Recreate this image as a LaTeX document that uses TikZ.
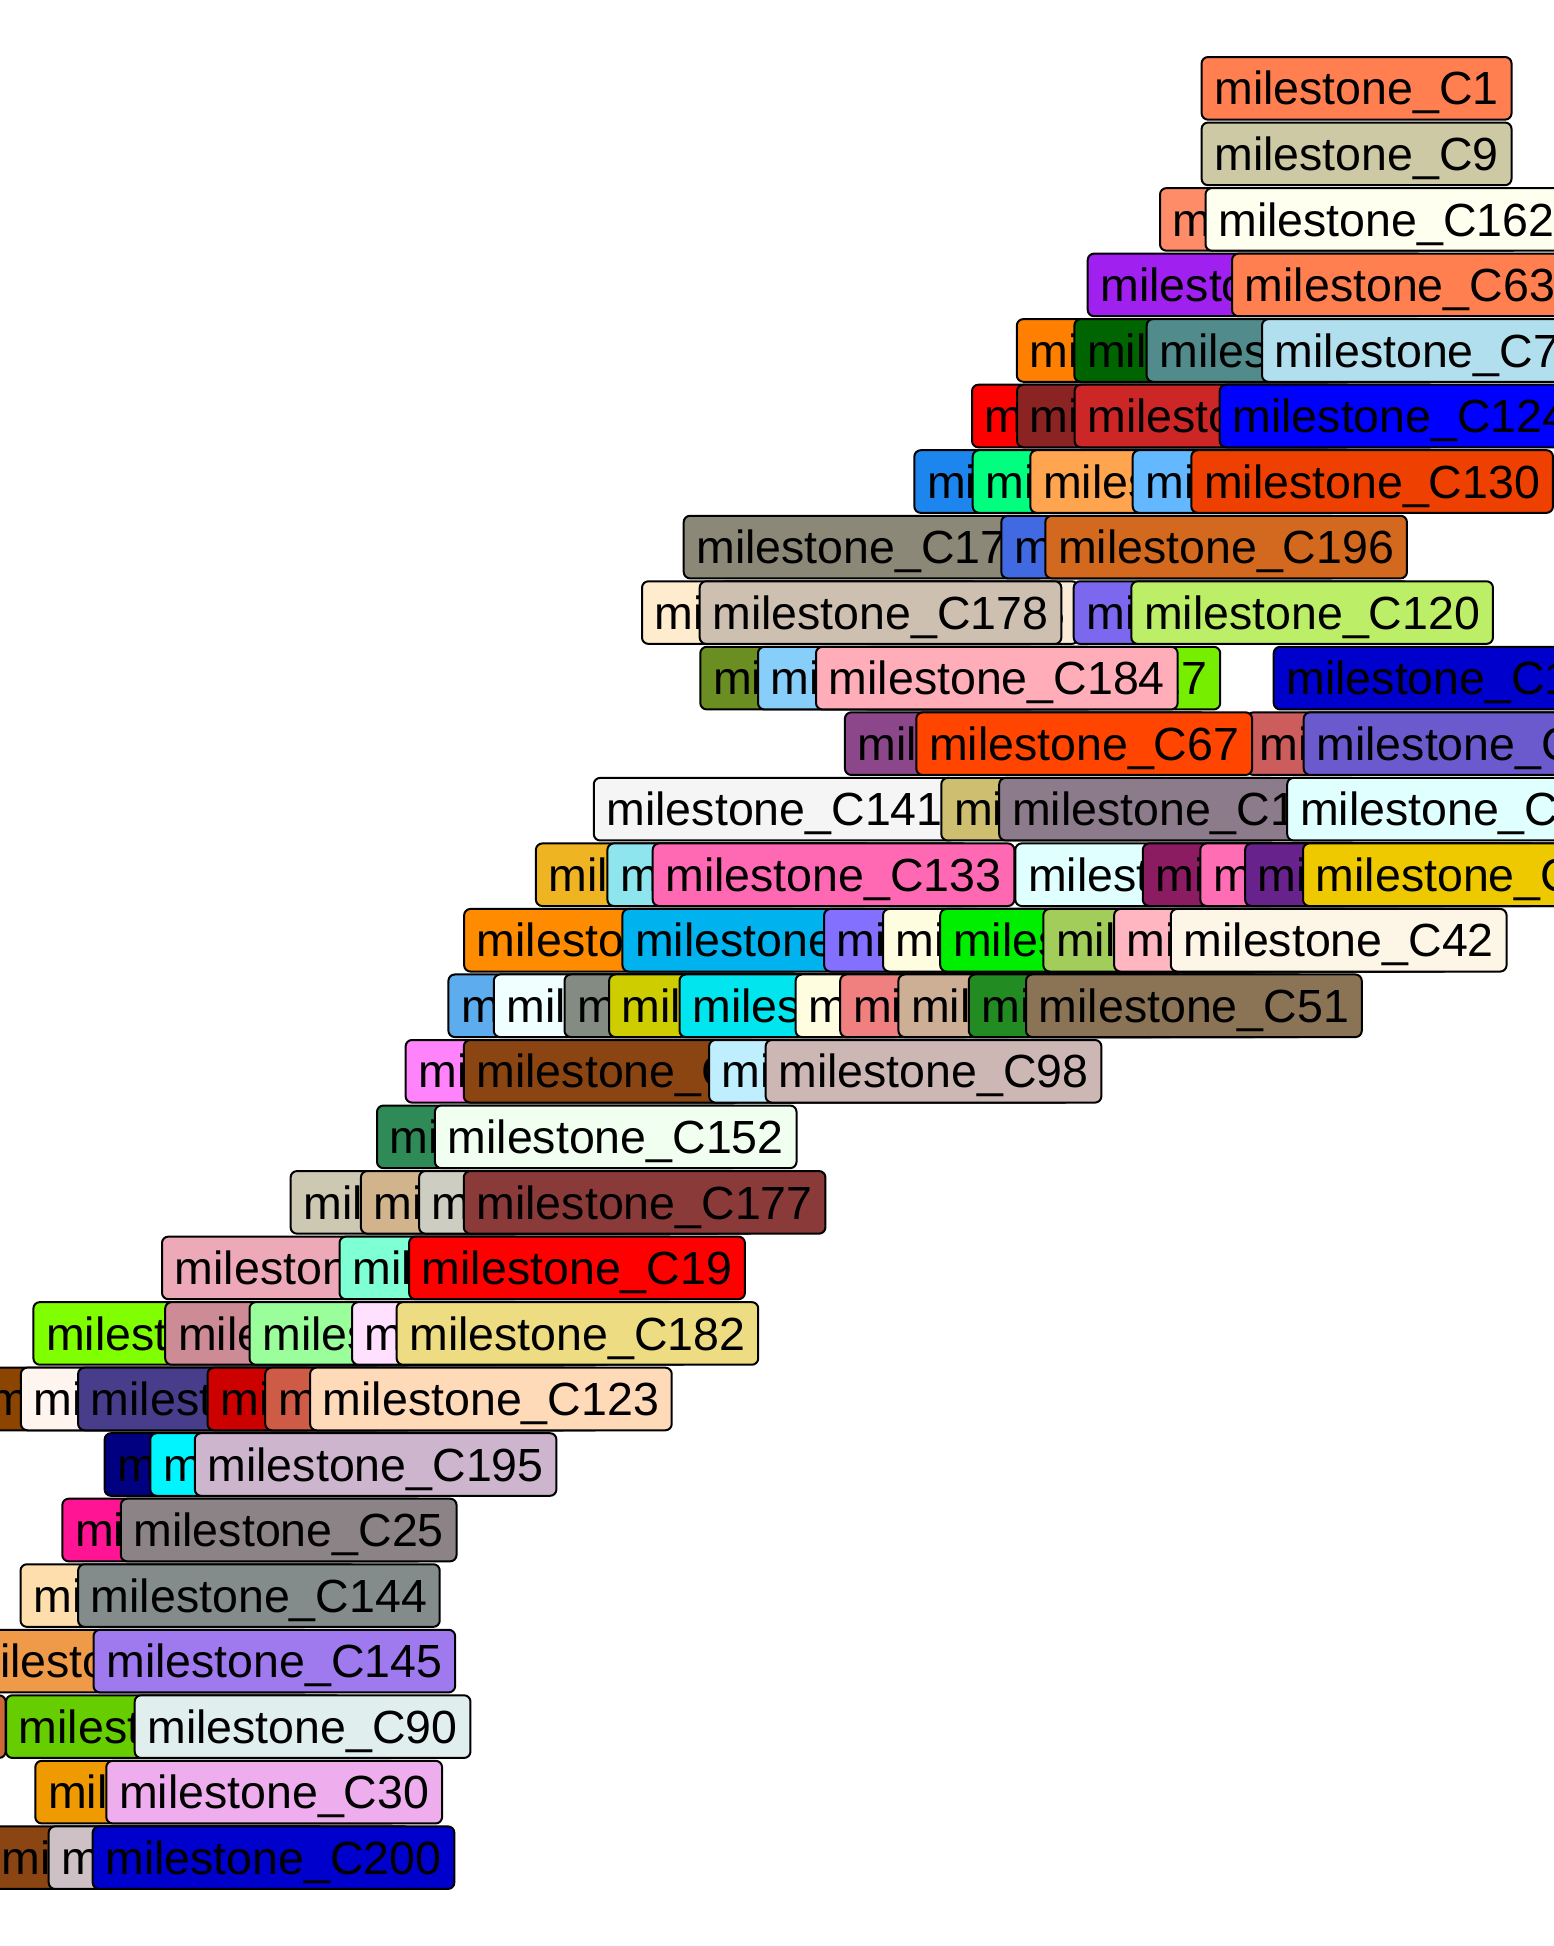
\documentclass[tikz,border=0pt]{standalone}
\usepackage{fontspec}
\setmainfont{Liberation Sans}
\tikzset{
  lbl/.style={draw=black, line width=1pt, rounded corners=3.2pt, anchor=west,
    inner xsep=6.4pt, inner ysep=0pt, minimum height=31.3pt,
    text height=16.65pt, text depth=0pt, text=black,
    font=\fontsize{23.25pt}{28pt}\selectfont}
}
% #1 name, #2 left x (px), #3 row centre y (px), #4 fill colour (HTML), #5 label number
\newcommand\lab[5]{\definecolor{col#1}{HTML}{#4}\node[lbl, fill=col#1] (#1) at (#2+1,#3) {milestone\_C#5};}
\begin{document}
\begin{tikzpicture}[x=0.5pt,y=-0.5pt]
\useasboundingbox (0,0) rectangle (1553,1946);
\fill[white] (0,0) rectangle (1553,1946);
% row 1
\lab{ra}{1199.6}{88.35}{FF7F50}{1}
% row 2
\lab{rb}{1199.6}{153.88}{CDC9A5}{9}
% row 3
\lab{rca}{1158}{219.41}{FF8C69}{113}
\lab{rcb}{1203.5}{219.41}{FFFFF0}{162}
% row 4
\lab{rda}{1085.7}{284.94}{A020F0}{47}
\lab{rdb}{1230}{284.94}{FF7F50}{63}
% row 5
\lab{rea}{1014.8}{350.47}{FF7F00}{88}
\lab{reb}{1072.3}{350.47}{006400}{156}
\lab{rec}{1144.6}{350.47}{528B8B}{35}
\lab{red}{1260}{350.47}{B2DFEE}{7}
% row 6
\lab{rfa}{970}{416.0}{FF0000}{104}
\lab{rfb}{1015}{416.0}{8B2323}{57}
\lab{rfc}{1072.5}{416.0}{CD2626}{139}
\lab{rfd}{1217.7}{416.0}{0000FF}{124}
% row 7
\lab{rga}{912.3}{481.53}{1C86EE}{81}
\lab{rgb}{970.7}{481.53}{00FF7F}{166}
\lab{rgc}{1028.3}{481.53}{FFA54F}{22}
\lab{rgd}{1130.7}{481.53}{63B8FF}{107}
\lab{rge}{1189.3}{481.53}{EE4000}{130}
% row 8
\lab{rha}{681.7}{547.06}{8B8878}{171}
\lab{rhb}{999.3}{547.06}{4169E1}{61}
\lab{rhc}{1043.3}{547.06}{D2691E}{196}
% row 9
\lab{ria}{640}{612.59}{FFEBCD}{74}
\lab{rib}{718}{612.59}{FAEBD7}{115}
\lab{ric}{697.7}{612.59}{CDC0B0}{178}
\lab{rid}{1071.7}{612.59}{7B68EE}{93}
\lab{rie}{1129.3}{612.59}{BCEE68}{120}
% row 10
\lab{rja}{698.3}{678.12}{6B8E23}{66}
\lab{rjb}{756}{678.12}{87CEFA}{12}
\lab{rjc}{860}{678.12}{76EE00}{117}
\lab{rjd}{814}{678.12}{FFAEB9}{184}
\lab{rje}{1271.7}{678.12}{0000CD}{18}
% row 11
\lab{rka}{842.9}{743.65}{8B4789}{128}
\lab{rkb}{1245}{743.65}{CD5C5C}{147}
\lab{rkc}{914.3}{743.65}{FF4500}{67}
\lab{rkd}{1301.7}{743.65}{6A5ACD}{5}
% row 12
\lab{rla}{591.8}{809.18}{F5F5F5}{141}
\lab{rlb}{939.3}{809.18}{CDBE70}{79}
\lab{rlc}{997.2}{809.18}{8B7B8B}{112}
\lab{rld}{1285.2}{809.18}{E0FFFF}{31}
% row 13
\lab{rma}{533.9}{874.71}{EEB422}{44}
\lab{rmb}{605.4}{874.71}{8EE5EE}{190}
\lab{rmc}{650.7}{874.71}{FF69B4}{133}
\lab{rmd}{1013.3}{874.71}{E0FFFF}{85}
\lab{rme}{1140.8}{874.71}{8B1C62}{163}
\lab{rmf}{1198.3}{874.71}{FF6EB4}{39}
\lab{rmg}{1243.1}{874.71}{68228B}{101}
\lab{rmh}{1301}{874.71}{EEC900}{15}
% row 14
\lab{rna}{462.1}{940.24}{FF8C00}{53}
\lab{rnb}{620.4}{940.24}{00B2EE}{198}
\lab{rnc}{822.1}{940.24}{8470FF}{27}
\lab{rnd}{881}{940.24}{FFFDE0}{118}
\lab{rne}{938.2}{940.24}{00EE00}{71}
\lab{rnf}{1041.3}{940.24}{A2CD5A}{154}
\lab{rng}{1112.1}{940.24}{FFB6C1}{86}
\lab{rnh}{1168.8}{940.24}{FDF5E6}{42}
% row 15
\lab{roa}{446.4}{1005.77}{5CACEE}{3}
\lab{rob}{491.8}{1005.77}{F0FFFF}{131}
\lab{roc}{562.5}{1005.77}{838B83}{59}
\lab{rod}{607.1}{1005.77}{CDCD00}{172}
\lab{roe}{677.5}{1005.77}{00E5EE}{14}
\lab{rof}{793.6}{1005.77}{FFFDE0}{109}
\lab{rog}{838.2}{1005.77}{F08080}{48}
\lab{roh}{896.4}{1005.77}{CDAF95}{185}
\lab{roi}{966.8}{1005.77}{228B22}{76}
\lab{roj}{1024}{1005.77}{8B7355}{51}
% row 16
\lab{rpa}{403.6}{1071.3}{FF83FA}{96}
\lab{rpb}{461.8}{1071.3}{8B4513}{16}
\lab{rpc}{707.1}{1071.3}{BFEFFF}{142}
\lab{rpd}{763.6}{1071.3}{CDB7B5}{98}
% row 17
\lab{rqa}{375}{1136.83}{2E8B57}{125}
\lab{rqb}{432.9}{1136.83}{F0FFF0}{152}
% row 18
\lab{rra}{288.6}{1202.36}{CDC8B1}{68}
\lab{rrb}{358.9}{1202.36}{D2B48C}{135}
\lab{rrc}{417.1}{1202.36}{CDCDC1}{37}
\lab{rrd}{461.8}{1202.36}{8B3A3A}{177}
% row 19
\lab{rsa}{160}{1267.89}{EEA9B8}{119}
\lab{rsb}{337.5}{1267.89}{7FFFD4}{62}
\lab{rsc}{407.1}{1267.89}{FF0000}{19}
% row 20
\lab{rta}{31.4}{1333.42}{7FFF00}{159}
\lab{rtb}{163.2}{1333.42}{CD8C95}{84}
\lab{rtc}{247.5}{1333.42}{9AFF9A}{127}
\lab{rtd}{350}{1333.42}{FFE1FF}{43}
\lab{rte}{394.6}{1333.42}{EEDC82}{182}
% row 21
\lab{rua}{-25}{1398.95}{8B4500}{99}
\lab{rub}{18.9}{1398.95}{FFF5EE}{176}
\lab{ruc}{76.1}{1398.95}{483D8B}{54}
\lab{rud}{205.5}{1398.95}{CD0000}{148}
\lab{rue}{263.2}{1398.95}{CD5B45}{72}
\lab{ruf}{308.1}{1398.95}{FFDAB9}{123}
% row 22
\lab{rva}{102.6}{1464.48}{000080}{110}
\lab{rvb}{148.3}{1464.48}{00F5FF}{36}
\lab{rvc}{192.8}{1464.48}{CDB5CD}{195}
% row 23
\lab{rwa}{60.3}{1530.01}{FF1493}{167}
\lab{rwb}{118.8}{1530.01}{8B8386}{25}
% row 24
\lab{rxa}{18.5}{1595.54}{FFDEAD}{89}
\lab{rxb}{76.1}{1595.54}{838B8B}{144}
% row 25
\lab{rya}{-53.5}{1661.07}{EE9A49}{134}
\lab{ryb}{91.5}{1661.07}{9F79EE}{145}
% row 26
\lab{rza}{-358}{1726.6}{CD6839}{181}
\lab{rzb}{4}{1726.6}{66CD00}{45}
\lab{rzc}{132.7}{1726.6}{E0EEEE}{90}
% row 27
\lab{sa}{33.3}{1792.13}{EE9A00}{103}
\lab{sb}{104.3}{1792.13}{EEAEEE}{30}
% row 28
\lab{ta}{-13}{1857.66}{8B4513}{58}
\lab{tb}{46.7}{1857.66}{CDC1C5}{161}
\lab{tc}{90.7}{1857.66}{0000CD}{200}
\end{tikzpicture}
\end{document}
